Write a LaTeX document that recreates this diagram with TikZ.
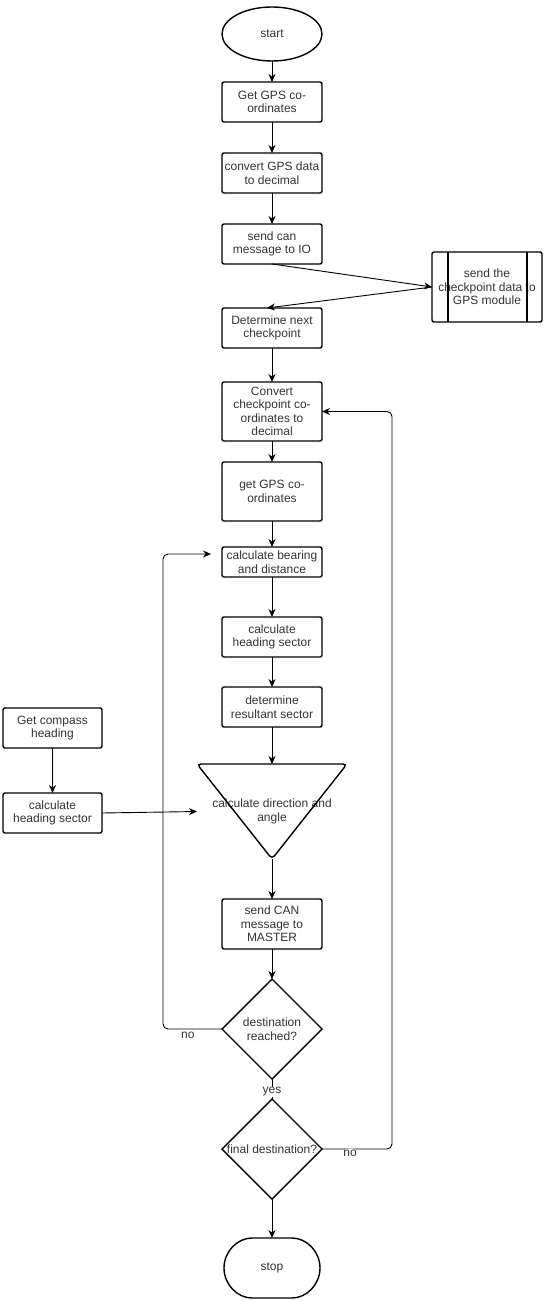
\documentclass[tikz,border=0pt]{standalone}
\usepackage{fontspec}
\setmainfont{Liberation Sans}
\usepackage{tikz}
\usetikzlibrary{shapes}
\usetikzlibrary{arrows}
\usetikzlibrary{arrows.meta}
\usetikzlibrary{positioning}
\begin{document}
\begin{tikzpicture}[x=1pt,y=-1pt,>={Stealth[length=8pt,width=7pt]},font=\fontsize{12}{13.5}\selectfont]
\tikzstyle{box}=[rectangle,draw=black,line width=1.4pt,rounded corners=2pt,text=black!80,
align=center,inner sep=2pt,outer sep=0pt,minimum width=100pt,minimum height=40pt]
\tikzstyle{terminal}=[ellipse,draw=black,line width=1.4pt,text=black!80,inner sep=0pt,outer sep=0pt,
minimum width=100pt,minimum height=54pt]
\tikzstyle{decision}=[diamond,draw=black,line width=1.4pt,text=black!80,align=center,
inner sep=0pt,outer sep=0pt,minimum width=100pt,minimum height=100pt]
\tikzstyle{triangle}=[align=center,text=black!80,inner sep=0pt,outer sep=0pt,minimum width=150pt,minimum height=95pt]
\tikzstyle{lbl}=[fill=white,text=black!80,inner sep=1pt]
\tikzstyle{line}=[line width=0.9pt]
\useasboundingbox (0,0) rectangle (544,1300);
\node[terminal] (start) at (272,34) {start};
\node[box] (get gps) [below=21pt of start] {Get GPS co-\\ordinates};
\node[box] (convert gps) [below=31pt of get gps] {convert GPS data\\to decimal};
\node[box] (send io) [below=31pt of convert gps] {send can\\message to IO};
\node[box,minimum height=70pt,minimum width=110pt] (gps module) at (487,287) {send the\\checkpoint data to\\GPS module};
\node[box] (next checkpoint) [below=44pt of send io] {Determine next\\checkpoint};
\node[box,minimum height=59pt] (convert checkpoint) [below=34pt of next checkpoint] {Convert\\checkpoint co-\\ordinates to\\decimal};
\node[box,minimum height=59pt] (get gps again) [below=21pt of convert checkpoint] {get GPS co-\\ordinates};
\node[box,minimum height=30pt] (bearing) [below=26pt of get gps again] {calculate bearing\\and distance};
\node[box] (heading sector) [below=40pt of bearing] {calculate\\heading sector};
\node[box] (resultant) [below=30pt of heading sector] {determine\\resultant sector};
\node[triangle] (direction) [below=37pt of resultant] {calculate direction and\\angle};
\node[box,minimum height=50pt] (send master) [below=40pt of direction] {send CAN\\message to\\MASTER};
\node[decision] (reached) [below=30pt of send master] {destination\\reached?};
\node[decision] (final) [below=20pt of reached] {\makebox[0pt]{final destination?}};
\node[box,rounded rectangle,minimum height=60pt] (stop) [below=39pt of final] {stop};
\node[box,minimum width=99pt] (compass) at (52.5,728) {Get compass\\heading};
\node[box,minimum width=99pt] (compass sector) [below=45pt of compass] {calculate\\heading sector};
\draw[line width=1.4pt,rounded corners=4pt] (direction.north) -- (direction.north east) -- (direction.south)
-- (direction.north west) -- cycle;
\draw[line width=1.4pt] ([xshift=16pt]gps module.north west) -- ([xshift=16pt]gps module.south west);
\draw[line width=1.4pt] ([xshift=-15pt]gps module.north east) -- ([xshift=-15pt]gps module.south east);
\draw[line,->] (start) -- (get gps);
\draw[line,->] (get gps) -- (convert gps);
\draw[line,->] (convert gps) -- (send io);
\draw[line,->] (send io.south) -- (gps module.west);
\draw[line,->] (gps module.west) -- ([xshift=-5pt]next checkpoint.north);
\draw[line,->] (next checkpoint) -- (convert checkpoint);
\draw[line,->] (convert checkpoint) -- (get gps again);
\draw[line,->] (get gps again) -- (bearing);
\draw[line,->] (bearing) -- (heading sector);
\draw[line,->] (heading sector) -- (resultant);
\draw[line,->] (resultant) -- (direction.north);
\draw[line,->] (direction.south) -- (send master);
\draw[line,->] (send master) -- (reached);
\draw[line] (reached.south) -- node[lbl,yshift=-3pt] {yes} (final.north);
\draw[line,->] (final) -- (stop);
\draw[line,->] (compass) -- (compass sector);
\draw[line,->] (compass sector.east) -- (direction.west);
\draw[line,->,rounded corners=5pt] (reached.west) -- node[lbl,pos=0.58,yshift=-6pt] {no} ++(-59pt,0)
|- ([shift={(-11pt,8pt)}]bearing.west);
\draw[line,->,rounded corners=5pt] (final.east) -- node[lbl,pos=0.4,yshift=-4pt] {no} ++(70pt,0)
|- (convert checkpoint.east);
\end{tikzpicture}
\end{document}
